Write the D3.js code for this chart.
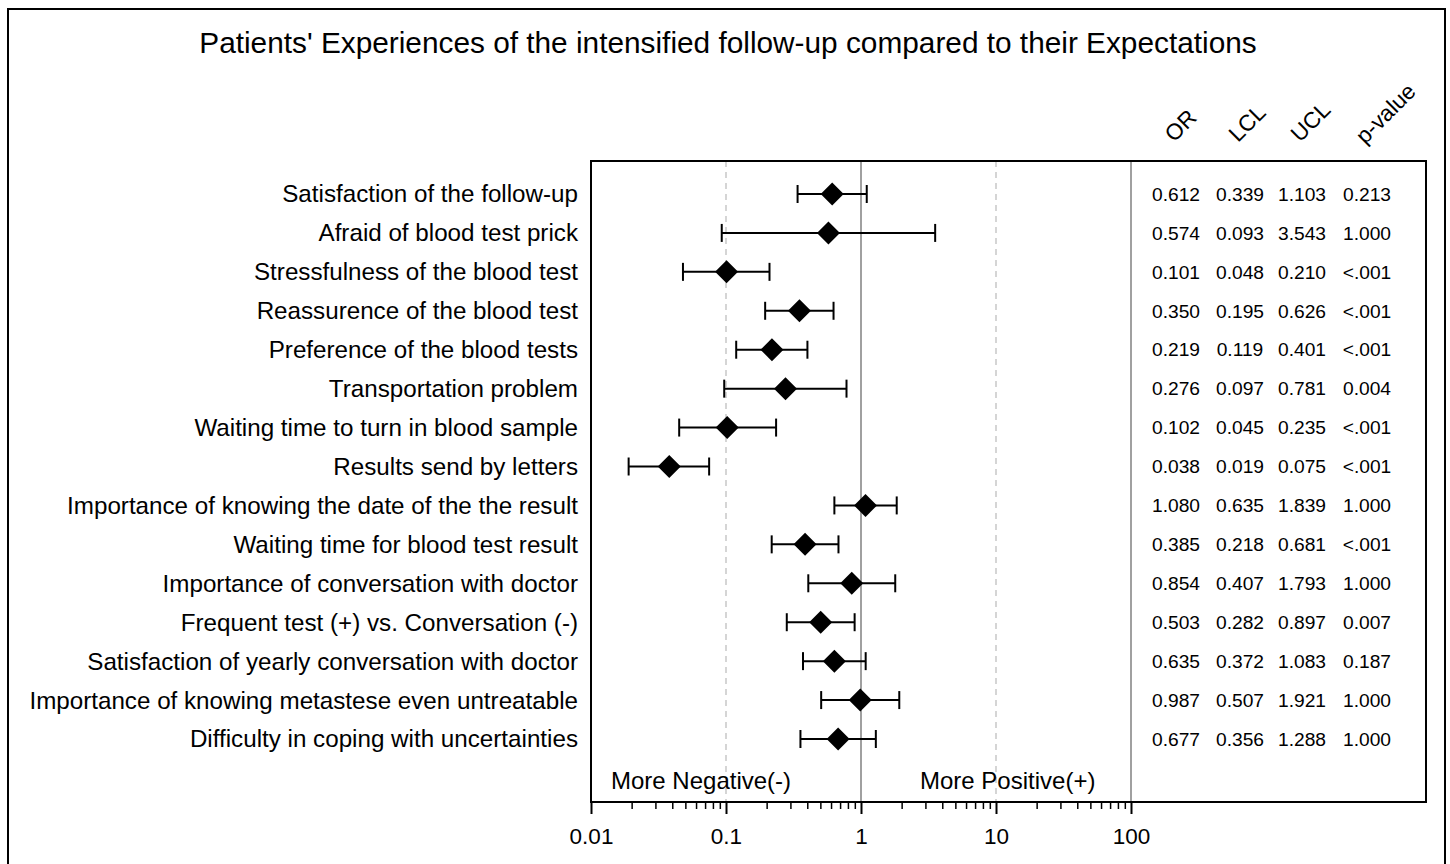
<!DOCTYPE html>
<html><head><meta charset="utf-8">
<script src="https://cdn.jsdelivr.net/npm/d3@7"></script>
<style>body{margin:0;background:#fff}svg{display:block;font-family:Arial,"Liberation Sans",sans-serif}</style>
</head><body><svg id="c" width="1450" height="864"></svg>
<script>
const categories = [
 "Satisfaction of the follow-up",
 "Afraid of blood test prick",
 "Stressfulness of the blood test",
 "Reassurence of the blood test",
 "Preference of the blood tests",
 "Transportation problem",
 "Waiting time to turn in blood sample",
 "Results send by letters",
 "Importance of knowing the date of the the result",
 "Waiting time for blood test result",
 "Importance of conversation with doctor",
 "Frequent test (+) vs. Conversation (-)",
 "Satisfaction of yearly conversation with doctor",
 "Importance of knowing metastese even untreatable",
 "Difficulty in coping with uncertainties"
];
const orValues  = [0.612,0.574,0.101,0.350,0.219,0.276,0.102,0.038,1.080,0.385,0.854,0.503,0.635,0.987,0.677];
const lclValues = [0.339,0.093,0.048,0.195,0.119,0.097,0.045,0.019,0.635,0.218,0.407,0.282,0.372,0.507,0.356];
const uclValues = [1.103,3.543,0.210,0.626,0.401,0.781,0.235,0.075,1.839,0.681,1.793,0.897,1.083,1.921,1.288];
const pValues   = ["0.213","1.000","<.001","<.001","<.001","0.004","<.001","<.001","1.000","<.001","1.000","0.007","0.187","1.000","1.000"];
const tableHeaders = ["OR","LCL","UCL","p-value"];
const tickValues = [0.01,0.1,1,10,100];
const tickLabels = ["0.01","0.1","1","10","100"];
const refSolid = [1,100];
const refDashed = [0.1,10];
const title = "Patients' Experiences of the intensified follow-up compared to their Expectations";

const svg = d3.select("#c");
const L=591, R=1426, T=161, B=802;
const x = d3.scaleLog().domain([0.01,100]).range([591,1131]);
const y = d3.scalePoint().domain(categories).range([194,739]);

// outer border
svg.append("rect").attr("x",8).attr("y",9).attr("width",1437).attr("height",870)
  .attr("fill","none").attr("stroke","#000").attr("stroke-width",2);

svg.append("text").attr("x",728).attr("y",53).attr("text-anchor","middle")
  .attr("font-size",29.8).text(title);

// reference lines
svg.selectAll(".rd").data(refDashed).enter().append("line")
  .attr("x1",d=>x(d)).attr("x2",d=>x(d)).attr("y1",T).attr("y2",B)
  .attr("stroke","#c8c8c8").attr("stroke-width",1.5).attr("stroke-dasharray","6,5");
svg.selectAll(".rs").data(refSolid).enter().append("line")
  .attr("x1",d=>x(d)).attr("x2",d=>x(d)).attr("y1",T).attr("y2",B)
  .attr("stroke","#a0a0a0").attr("stroke-width",2);

// frame
svg.append("rect").attr("x",L).attr("y",T).attr("width",R-L).attr("height",B-T)
  .attr("fill","none").attr("stroke","#000").attr("stroke-width",2);

// axis
const minor = [];
for (let e=-2;e<2;e++) for (let m=2;m<=9;m++) minor.push(m*Math.pow(10,e));
const ax = svg.append("g").attr("transform",`translate(0,${B})`);
ax.append("g").call(d3.axisBottom(x).tickValues(minor).tickSize(7).tickFormat(""))
  .call(g=>g.select(".domain").remove()).selectAll("line").attr("stroke","#000").attr("stroke-width",1.5);
ax.append("g").call(d3.axisBottom(x).tickValues(tickValues).tickSize(12).tickPadding(14)
   .tickFormat((d,i)=>tickLabels[i]))
  .call(g=>g.select(".domain").remove())
  .call(g=>g.selectAll("line").attr("stroke","#000").attr("stroke-width",2))
  .call(g=>g.selectAll("text").attr("font-size",22.5).attr("fill","#000").attr("font-family","Arial,'Liberation Sans',sans-serif"));

// labels
svg.selectAll(".lab").data(categories).enter().append("text")
  .attr("x",578).attr("y",d=>y(d)).attr("dy","0.35em").attr("text-anchor","end")
  .attr("font-size",24.2).text(d=>d);

// error bars
const rows = categories.map((c,i)=>({c,or:orValues[i],l:lclValues[i],u:uclValues[i],p:pValues[i]}));
const g = svg.append("g");
rows.forEach(r=>{
  const yy=y(r.c);
  g.append("line").attr("x1",x(r.l)).attr("x2",x(r.u)).attr("y1",yy).attr("y2",yy).attr("stroke","#000").attr("stroke-width",2);
  [r.l,r.u].forEach(v=>g.append("line").attr("x1",x(v)).attr("x2",x(v)).attr("y1",yy-9).attr("y2",yy+9).attr("stroke","#000").attr("stroke-width",2));
  const cx=x(r.or), s=11.5;
  g.append("path").attr("d",`M${cx},${yy-s}L${cx+s},${yy}L${cx},${yy+s}L${cx-s},${yy}Z`).attr("fill","#000");
});

// table
const colX=[1176,1240,1302,1367];
const fmt=d3.format(".3f");
rows.forEach(r=>{
  const vals=[fmt(r.or),fmt(r.l),fmt(r.u),r.p];
  vals.forEach((v,j)=>svg.append("text").attr("x",colX[j]).attr("y",y(r.c)).attr("dy","0.35em")
    .attr("text-anchor","middle").attr("font-size",19.2).text(v));
});
tableHeaders.forEach((h,j)=>{
  svg.append("text").attr("transform",`translate(${colX[j]-2},${j===3?145:143}) rotate(-45)`)
    .attr("font-size",22.5).text(h);
});

svg.append("text").attr("x",611).attr("y",789).attr("font-size",24).text("More Negative(-)");
svg.append("text").attr("x",920).attr("y",789).attr("font-size",24).text("More Positive(+)");
</script></body></html>
